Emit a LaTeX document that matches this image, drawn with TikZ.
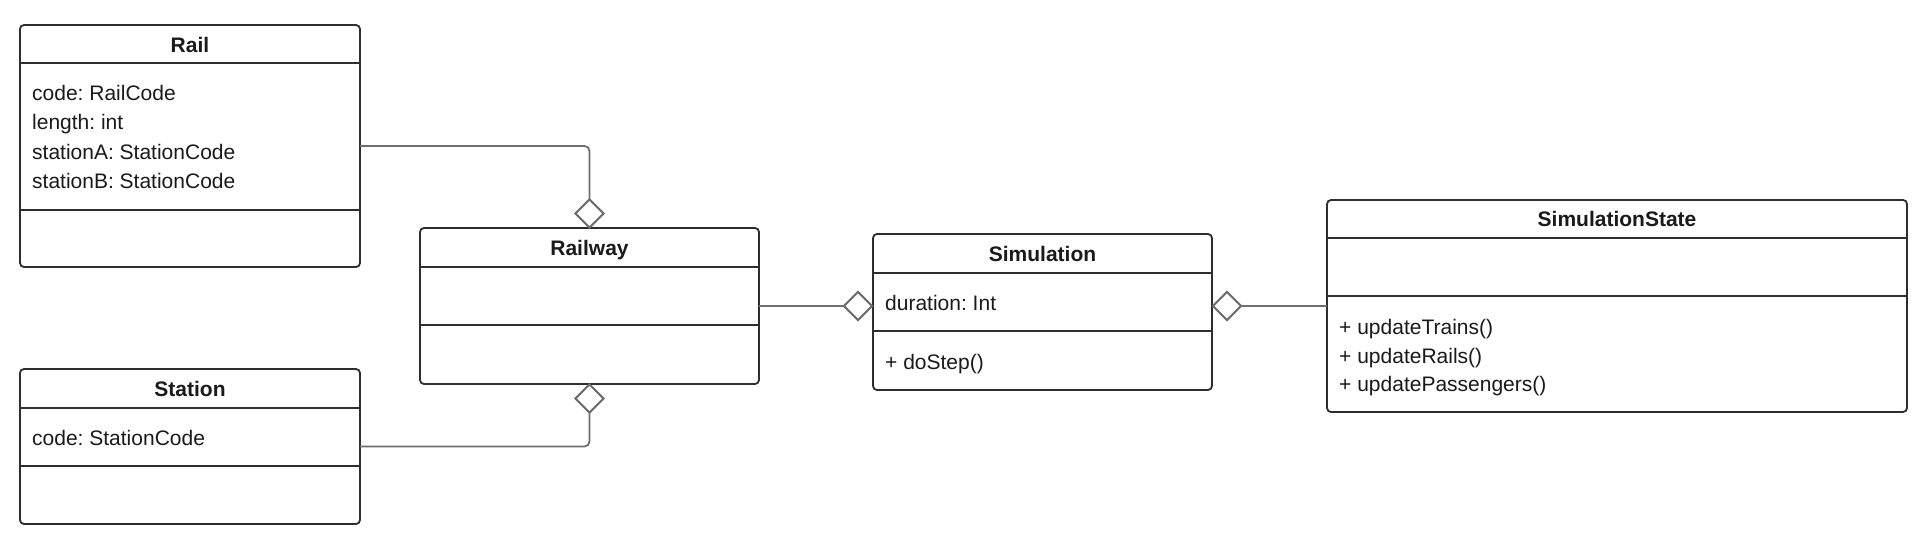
\documentclass[tikz,border=0pt]{standalone}
\usepackage{fontspec}
\setmainfont{Liberation Sans}
\frenchspacing
\usetikzlibrary{shapes.geometric}
\definecolor{boxc}{HTML}{2E2E2E}
\definecolor{linec}{HTML}{6E6E6E}
\definecolor{txtc}{HTML}{1A1A1A}
\begin{document}
\begin{tikzpicture}[x=1pt,y=-1pt,
  every node/.style={font=\fontsize{21}{29}\selectfont, text=txtc},
  cls/.style={draw=boxc, line width=1.8pt, rounded corners=4pt, inner sep=0pt, outer sep=0pt, fill=white},
  sepline/.style={draw=boxc, line width=1.8pt},
  title/.style={font=\fontsize{21}{29}\selectfont\bfseries, anchor=base, inner sep=0pt},
  member/.style={anchor=base west, inner sep=0pt},
  conn/.style={draw=linec, line width=1.8pt, rounded corners=5pt},
  agg/.style={diamond, aspect=1, draw=linec, line width=1.8pt, fill=white, minimum width=28pt, minimum height=28pt, inner sep=0pt, outer sep=0pt}
]
\useasboundingbox[fill=white] (0,0) rectangle (1925,546);

% Rail
\node[cls, minimum width=340pt, minimum height=242pt] (rail) at (190,146) {};
\draw[sepline] (rail.west |- 0,63) -- (rail.east |- 0,63);
\draw[sepline] (rail.west |- 0,210) -- (rail.east |- 0,210);
\node[title] (railT) at (190,52) {Rail};
\node[member] (railA1) at (32,100) {code: RailCode};
\node[member] (railA2) at (32,129.5) {length: int};
\node[member] (railA3) at (32,159) {stationA: StationCode};
\node[member] (railA4) at (32,188) {stationB: StationCode};

% Station
\node[cls, minimum width=340pt, minimum height=155pt] (station) at (190,446.5) {};
\draw[sepline] (station.west |- 0,408) -- (station.east |- 0,408);
\draw[sepline] (station.west |- 0,466) -- (station.east |- 0,466);
\node[title] (stationT) at (190,396) {Station};
\node[member] (stationA1) at (32,445) {code: StationCode};

% Railway
\node[cls, minimum width=339pt, minimum height=156pt] (railway) at (589.5,306) {};
\draw[sepline] (railway.west |- 0,267) -- (railway.east |- 0,267);
\draw[sepline] (railway.west |- 0,325) -- (railway.east |- 0,325);
\node[title] (railwayT) at (589.5,255) {Railway};

% Simulation
\node[cls, minimum width=339pt, minimum height=156pt] (sim) at (1042.5,312) {};
\draw[sepline] (sim.west |- 0,273) -- (sim.east |- 0,273);
\draw[sepline] (sim.west |- 0,331) -- (sim.east |- 0,331);
\node[title] (simT) at (1042.5,261) {Simulation};
\node[member] (simA1) at (885,310) {duration: Int};
\node[member] (simM1) at (885,369) {+ doStep()};

% SimulationState
\node[cls, minimum width=580pt, minimum height=212pt] (state) at (1617,306) {};
\draw[sepline] (state.west |- 0,238) -- (state.east |- 0,238);
\draw[sepline] (state.west |- 0,296) -- (state.east |- 0,296);
\node[title] (stateT) at (1617,226) {SimulationState};
\node[member] (stateM1) at (1339,334) {+ updateTrains()};
\node[member] (stateM2) at (1339,363) {+ updateRails()};
\node[member] (stateM3) at (1339,391) {+ updatePassengers()};

% aggregation diamonds
\coordinate (d1c) at (589.5,213.5);
\coordinate (d2c) at (589.5,398.5);
\coordinate (d3c) at (858,306);
\coordinate (d4c) at (1227,306);
\node[agg] (d1) at (d1c) {};
\node[agg] (d2) at (d2c) {};
\node[agg] (d3) at (d3c) {};
\node[agg] (d4) at (d4c) {};

% connectors
\draw[conn] (rail.east) -| (d1.north);
\draw[conn] (station.east) -| (d2.south);
\draw[conn] (railway.east) -- (d3.west);
\draw[conn] (d4.east) -- (state.west);

% diamonds drawn again on top of the connector ends
\node[agg] (d1b) at (d1c) {};
\node[agg] (d2b) at (d2c) {};
\node[agg] (d3b) at (d3c) {};
\node[agg] (d4b) at (d4c) {};
\end{tikzpicture}
\end{document}
